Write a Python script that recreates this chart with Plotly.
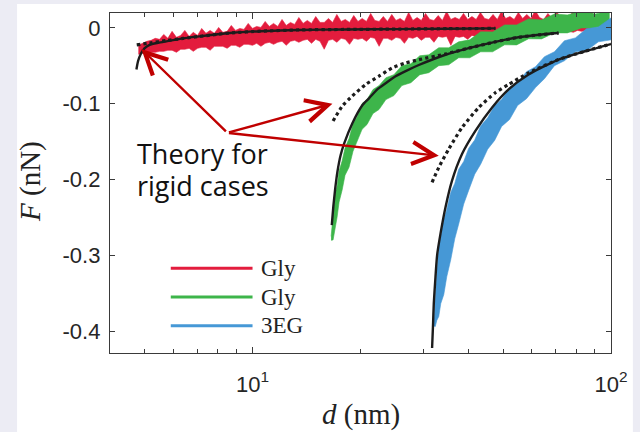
import numpy as np
import plotly.graph_objects as go

# ---------------- measured force curves (noisy bands: upper / lower envelope) ----------------
red_d = [4.80, 4.93, 5.07, 5.21, 5.35, 5.50, 5.65, 5.80, 5.96, 6.13,
         6.30, 6.47, 6.65, 6.83, 7.02, 7.21, 7.41, 7.61, 7.82, 8.04,
         8.26, 8.49, 8.72, 8.96, 9.21, 9.46, 9.72, 9.99, 10.26, 10.55,
         10.84, 11.13, 11.44, 11.75, 12.08, 12.41, 12.75, 13.10, 13.46, 13.83,
         14.21, 14.60, 15.00, 15.42, 15.84, 16.28, 16.72, 17.18, 17.66, 18.14,
         18.64, 19.15, 19.68, 20.22, 20.78, 21.35, 21.93, 22.54, 23.16, 23.79,
         24.45, 25.12, 25.81, 26.52, 27.25, 28.00, 28.77, 29.56, 30.37, 31.21,
         32.06, 32.95, 33.85, 34.78, 35.74, 36.72, 37.73, 38.77, 39.83, 40.93,
         42.05, 43.21, 44.40, 45.62, 46.87, 48.16, 49.48, 50.84, 52.24, 53.68,
         55.15, 56.67, 58.22, 59.82, 61.47, 63.16, 64.90, 66.68, 68.52, 70.40,
         72.34, 74.33, 76.37, 78.47, 80.63, 82.85, 85.13, 87.47, 89.87]
red_upper = [-0.0231, -0.0205, -0.0178, -0.0165, -0.0139, -0.0152, -0.0087, -0.0139, -0.0047, -0.0126,
             -0.0100, -0.0034, -0.0113, -0.0060, -0.0100, -0.0008, -0.0073, -0.0034, -0.0073, 0.0005,
             -0.0060, -0.0047, 0.0031, -0.0034, -0.0008, -0.0021, 0.0058, -0.0008, 0.0018, 0.0005,
             0.0084, 0.0018, 0.0058, 0.0018, 0.0110, 0.0031, 0.0071, 0.0045, 0.0136, 0.0058,
             0.0097, 0.0058, 0.0149, 0.0071, 0.0071, 0.0123, 0.0071, 0.0176, 0.0084, 0.0110,
             0.0071, 0.0162, 0.0084, 0.0123, 0.0084, 0.0189, 0.0097, 0.0084, 0.0149, 0.0084,
             0.0176, 0.0097, 0.0123, 0.0084, 0.0202, 0.0097, 0.0136, 0.0097, 0.0189, 0.0110,
             0.0097, 0.0162, 0.0097, 0.0215, 0.0110, 0.0136, 0.0110, 0.0189, 0.0110, 0.0149,
             0.0110, 0.0202, 0.0123, 0.0110, 0.0176, 0.0110, 0.0215, 0.0123, 0.0149, 0.0110,
             0.0202, 0.0123, 0.0176, 0.0123, 0.0228, 0.0136, 0.0110, 0.0189, 0.0123, 0.0215,
             0.0136, 0.0162, 0.0123, 0.0228, 0.0149, 0.0189, 0.0136, 0.0215, 0.0162]
red_lower = [-0.0349, -0.0336, -0.0336, -0.0323, -0.0323, -0.0310, -0.0310, -0.0296, -0.0296, -0.0323,
             -0.0283, -0.0283, -0.0270, -0.0310, -0.0270, -0.0257, -0.0257, -0.0296, -0.0244, -0.0244,
             -0.0244, -0.0270, -0.0231, -0.0231, -0.0257, -0.0218, -0.0218, -0.0231, -0.0205, -0.0244,
             -0.0205, -0.0191, -0.0218, -0.0191, -0.0178, -0.0231, -0.0178, -0.0165, -0.0191, -0.0165,
             -0.0152, -0.0205, -0.0152, -0.0178, -0.0283, -0.0165, -0.0152, -0.0191, -0.0139, -0.0152,
             -0.0218, -0.0139, -0.0152, -0.0139, -0.0178, -0.0126, -0.0139, -0.0244, -0.0139, -0.0139,
             -0.0165, -0.0126, -0.0139, -0.0205, -0.0126, -0.0139, -0.0113, -0.0165, -0.0126, -0.0126,
             -0.0191, -0.0113, -0.0126, -0.0113, -0.0231, -0.0113, -0.0126, -0.0113, -0.0152, -0.0100,
             -0.0113, -0.0139, -0.0100, -0.0113, -0.0178, -0.0100, -0.0100, -0.0126, -0.0087, -0.0100,
             -0.0152, -0.0087, -0.0100, -0.0087, -0.0126, -0.0087, -0.0073, -0.0087, -0.0060, -0.0073,
             -0.0047, -0.0060, -0.0047, -0.0060, -0.0034, -0.0047, -0.0034, -0.0047, -0.0034]

green_d = [16.56, 16.77, 16.99, 17.21, 17.43, 17.77, 18.11, 18.58, 19.06, 19.56, 20.20, 20.86,
           21.67, 22.52, 23.55, 24.79, 26.09, 27.64, 29.28, 31.02, 33.07, 35.25, 37.59, 40.34,
           43.28, 46.74, 50.49, 54.52, 58.89, 63.98, 69.53, 75.56, 82.66, 90.42, 98.92]
green_upper = [-0.2748, -0.2493, -0.2190, -0.2084, -0.1886, -0.1756, -0.1585, -0.1458, -0.1263, -0.1175,
               -0.0997, -0.0946, -0.0814, -0.0762, -0.0657, -0.0618, -0.0499, -0.0474, -0.0368, -0.0356,
               -0.0263, -0.0264, -0.0185, -0.0159, -0.0053, -0.0054, 0.0038, 0.0038, 0.0117, 0.0103,
               0.0182, 0.0169, 0.0222, 0.0182, 0.0222]
green_lower = [-0.2800, -0.2794, -0.2623, -0.2493, -0.2295, -0.2139, -0.1941, -0.1837, -0.1627, -0.1509,
               -0.1338, -0.1273, -0.1129, -0.1077, -0.0945, -0.0893, -0.0761, -0.0723, -0.0617, -0.0591,
               -0.0499, -0.0487, -0.0394, -0.0395, -0.0316, -0.0316, -0.0224, -0.0225, -0.0145, -0.0146,
               -0.0067, -0.0067, -0.0001, -0.0002, 0.0058]

blue_d = [32.03, 32.34, 32.65, 33.07, 33.50, 34.15, 34.81, 35.71, 36.64, 37.59, 38.82, 40.09,
          41.66, 43.28, 45.27, 47.35, 49.52, 52.12, 54.86, 58.11, 61.56, 65.21, 69.53, 74.13,
          79.54, 85.36, 92.19, 100.0]
blue_upper = [-0.3875, -0.3515, -0.3214, -0.2878, -0.2734, -0.2524, -0.2393, -0.2170, -0.2052, -0.1865,
              -0.1761, -0.1587, -0.1479, -0.1292, -0.1185, -0.1024, -0.0946, -0.0788, -0.0723, -0.0578,
              -0.0513, -0.0381, -0.0316, -0.0171, -0.0133, -0.0014, 0.0011, 0.0130]
blue_lower = [-0.3928, -0.3935, -0.3855, -0.3803, -0.3632, -0.3515, -0.3279, -0.3056, -0.2780, -0.2584,
              -0.2321, -0.2139, -0.1928, -0.1798, -0.1600, -0.1483, -0.1299, -0.1208, -0.1024, -0.0933,
              -0.0788, -0.0670, -0.0499, -0.0434, -0.0316, -0.0303, -0.0185, -0.0159]

# ---------------- theory curves (solid: full model, dotted: rigid case) ----------------
theory_red_d = [4.74, 4.79, 4.87, 4.99, 5.16, 5.45, 5.75, 6.4, 7.11, 8.0, 8.78, 10.5, 13.5, 18.0, 25.6, 35.0, 47.6]
theory_red_F = [-0.0549, -0.044, -0.0349, -0.027, -0.0224, -0.0198, -0.0178, -0.014, -0.0113, -0.0085,
                -0.0066, -0.0045, -0.0028, -0.0022, -0.0017, -0.0012, -0.0008]
rigid_red_d = [4.75, 5.16, 5.75, 6.4, 7.11, 8.0, 8.78, 10.5, 13.5, 18.0, 25.6, 35.0, 47.6]
rigid_red_F = [-0.0225, -0.0200, -0.0168, -0.014, -0.0113, -0.0085, -0.0066, -0.0045, -0.0028, -0.0022,
               -0.0017, -0.0012, -0.0008]

theory_green_d = [16.63, 16.80, 17.0, 17.24, 17.6, 17.99, 18.97, 20.24, 21.12, 22.28, 23.50, 25.06, 27.0,
                  29.09, 34.53, 40.09, 47.55, 55.23, 63.0, 71.4]
theory_green_F = [-0.260, -0.235, -0.212, -0.190, -0.168, -0.153, -0.126, -0.102, -0.093, -0.081, -0.073,
                  -0.0637, -0.056, -0.049, -0.0355, -0.0268, -0.0185, -0.0125, -0.0092, -0.0069]
rigid_green_d = [16.77, 17.80, 18.97, 20.68, 22.52, 24.52, 26.72, 29.09, 34.53, 40.09, 47.55, 55.23, 63.0, 71.4]
rigid_green_F = [-0.1227, -0.103, -0.0899, -0.0746, -0.0637, -0.0528, -0.0463, -0.0420, -0.0345, -0.0268,
                 -0.0185, -0.0125, -0.0092, -0.0069]

theory_blue_d = [31.68, 31.85, 32.03, 32.38, 32.71, 33.44, 34.53, 36.01, 38.40, 41.84, 46.54, 51.80,
                 58.88, 71.37, 84.67, 100.0]
theory_blue_F = [-0.4219, -0.395, -0.363, -0.328, -0.300, -0.2712, -0.2363, -0.2013, -0.1663, -0.1358,
                 -0.1052, -0.0811, -0.0615, -0.0418, -0.0309, -0.0214]
rigid_blue_d = [31.68, 33.08, 35.26, 38.40, 42.72, 47.55, 51.80, 58.88, 71.37, 84.67, 100.0]
rigid_blue_F = [-0.2035, -0.1839, -0.1598, -0.1314, -0.1052, -0.0856, -0.0746, -0.0594, -0.0418, -0.0309, -0.0214]

legend_labels = ["Gly", "Gly", "3EG"]
x_tickvals = [10, 100]
x_ticktext = ["10<sup>1</sup>", "10<sup>2</sup>"]
x_minor_vals = [5, 6, 7, 8, 9, 20, 30, 40, 50, 60, 70, 80, 90]
y_tickvals = [0, -0.1, -0.2, -0.3, -0.4]
y_ticktext = ["0", "-0.1", "-0.2", "-0.3", "-0.4"]

# arrow endpoints (d in nm, F in nN): a common tail and three tips
arrow_tail = (8.505, -0.1384)
arrow_tips = [(4.893, -0.0279), (16.70, -0.100), (33.07, -0.1687)]

RED = "#E31C3D"
GREEN = "#3DB54A"
BLUE = "#4698D6"
INK = "#1c1c1c"
AXIS = "#3a3a3a"
ARROW = "#C00000"


def band(d, up, lo, color):
    return go.Scatter(x=d + d[::-1], y=up + lo[::-1], mode="lines", fill="toself",
                      fillcolor=color, line=dict(color=color, width=0.6),
                      hoverinfo="skip", showlegend=False)


def curve(d, f, dash):
    return go.Scatter(x=d, y=f, mode="lines", hoverinfo="skip", showlegend=False,
                      line=dict(color=INK, width=3.2 if dash == "dot" else 2.4, dash=dash,
                                shape="spline", smoothing=0.6))


fig = go.Figure()
fig.add_trace(band(red_d, red_upper, red_lower, RED))
fig.add_trace(band(green_d, green_upper, green_lower, GREEN))
fig.add_trace(band(blue_d, blue_upper, blue_lower, BLUE))
for d, f, dash in [(theory_red_d, theory_red_F, "solid"), (rigid_red_d, rigid_red_F, "dot"),
                   (theory_green_d, theory_green_F, "solid"), (rigid_green_d, rigid_green_F, "dot"),
                   (theory_blue_d, theory_blue_F, "solid"), (rigid_blue_d, rigid_blue_F, "dot")]:
    fig.add_trace(curve(d, f, dash))

annotations = []
for tx, ty in arrow_tips:
    annotations.append(dict(x=np.log10(tx), y=ty, xref="x", yref="y",
                            ax=np.log10(arrow_tail[0]), ay=arrow_tail[1], axref="x", ayref="y",
                            text="", showarrow=True, arrowhead=5, arrowsize=1.8,
                            arrowwidth=2.4, arrowcolor=ARROW, standoff=0))

text_font = dict(family="Open Sans", size=27, color="#111111")
annotations.append(dict(x=0.05, y=0.588, xref="paper", yref="paper", text="Theory for",
                        showarrow=False, xanchor="left", yanchor="middle", font=text_font))
annotations.append(dict(x=0.05, y=0.494, xref="paper", yref="paper", text="rigid cases",
                        showarrow=False, xanchor="left", yanchor="middle", font=text_font))

# legend drawn by hand: long coloured strokes with serif labels
shapes = [dict(type="rect", xref="paper", yref="paper", x0=-0.1855, x1=1.0437, y0=-0.3, y1=1.0264,
               fillcolor="white", line=dict(width=0), layer="below")]
legend_y = [0.2496, 0.1647, 0.0799]
for lab, col, ly in zip(legend_labels, [RED, GREEN, BLUE], legend_y):
    shapes.append(dict(type="line", xref="paper", yref="paper", x0=0.1213, x1=0.2845, y0=ly, y1=ly,
                       line=dict(color=col, width=3)))
    annotations.append(dict(x=0.2965, y=ly, xref="paper", yref="paper", text=lab, showarrow=False,
                            xanchor="left", yanchor="middle",
                            font=dict(family="Liberation Serif", size=23, color="#222222")))

title_font = dict(family="Liberation Serif", size=29, color="#222222")
annotations.append(dict(x=0.5, y=-0.182, xref="paper", yref="paper", text="<i>d</i> (nm)",
                        showarrow=False, xanchor="center", yanchor="middle", font=title_font))
annotations.append(dict(x=-0.159, y=0.504, xref="paper", yref="paper", text="<i>F</i> (nN)",
                        showarrow=False, xanchor="center", yanchor="middle", textangle=-90,
                        font=title_font))

tick_font = dict(family="Liberation Sans", size=22, color="#262626")
fig.update_layout(
    width=640, height=432,
    margin=dict(l=110, r=27, t=12, b=79),
    paper_bgcolor="#ECECF4", plot_bgcolor="white",
    showlegend=False,
    annotations=annotations, shapes=shapes,
    xaxis=dict(type="log", range=[np.log10(4), 2], tickvals=x_tickvals, ticktext=x_ticktext,
               ticks="inside", ticklen=6, tickwidth=1.2, tickcolor=AXIS,
               minor=dict(tickvals=x_minor_vals, ticks="inside", ticklen=3.5, tickwidth=1.2,
                          tickcolor=AXIS),
               showline=True, linecolor=AXIS, linewidth=1.3, mirror="ticks",
               showgrid=False, zeroline=False, tickfont=tick_font, ticklabelstandoff=11),
    yaxis=dict(range=[-0.4284, 0.0195], tickvals=y_tickvals, ticktext=y_ticktext,
               ticks="inside", ticklen=5, tickwidth=1.2, tickcolor=AXIS,
               showline=True, linecolor=AXIS, linewidth=1.3, mirror="ticks",
               showgrid=False, zeroline=False, tickfont=tick_font, ticklabelstandoff=4),
)

fig.write_html("out.html")
